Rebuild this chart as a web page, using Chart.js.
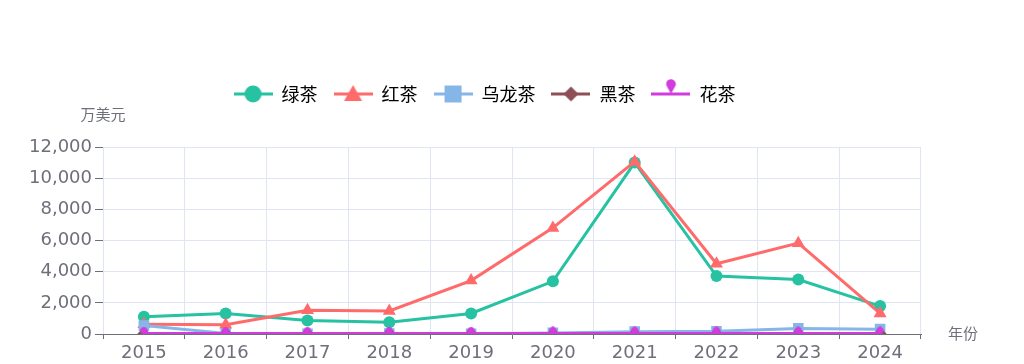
<!DOCTYPE html>
<html>
<head>
<meta charset="utf-8">
<script src="https://cdn.jsdelivr.net/npm/chart.js@4/dist/chart.umd.min.js"></script>
<style>
  html, body { margin: 0; padding: 0; background: #fff; }
</style>
</head>
<body>
<canvas id="tea-chart" width="1024" height="364"></canvas>
<script>
//================================== DATA ==============================================//
const years = ['2015', '2016', '2017', '2018', '2019', '2020', '2021', '2022', '2023', '2024'];
const seriesNames = ['绿茶', '红茶', '乌龙茶', '黑茶', '花茶'];
const lvCha = [1100, 1310, 860, 760, 1320, 3380, 11000, 3720, 3490, 1790];
const hongCha = [620, 600, 1530, 1480, 3430, 6810, 11060, 4510, 5830, 1320];
const wulongCha = [540, 40, 20, 30, 20, 70, 150, 170, 360, 310];
const heiCha = [10, 10, 10, 40, 10, 20, 20, 10, 10, 10];
const huaCha = [30, 30, 30, 30, 30, 40, 40, 40, 40, 40];
const yTicks = [0, 2000, 4000, 6000, 8000, 10000, 12000];

const colors = ['#26C2A1', '#FF6B6B', '#86B6E8', '#8E4F56', '#D23BDC'];
const AXIS = '#6E7079';
const GRID = '#E0E6F1';
const TICK_FONT = { size: 18, family: '"DejaVu Sans"' };

//================================== MARKERS ==============================================//
function drawPin(ctx, cx, cy, r, tipY, color){
    ctx.fillStyle = color;
    ctx.beginPath();
    ctx.arc(cx, cy, r, Math.PI * 0.8, Math.PI * 0.2);
    ctx.lineTo(cx, tipY);
    ctx.closePath();
    ctx.fill();
}

function pinImage(color){
    let c = document.createElement('canvas');
    c.width = 10; c.height = 14;
    drawPin(c.getContext('2d'), 5, 4, 3.6, 11, color);
    return c;
}

function legendIcon(color, style){
    let c = document.createElement('canvas');
    c.width = 39; c.height = 32;
    let ctx = c.getContext('2d');
    ctx.strokeStyle = color;
    ctx.lineWidth = 3;
    ctx.beginPath();
    ctx.moveTo(0, 16);
    ctx.lineTo(39, 16);
    ctx.stroke();
    ctx.fillStyle = color;
    ctx.beginPath();
    if(style === 'circle'){
        ctx.arc(19.5, 16, 8.5, 0, Math.PI * 2);
    } else if(style === 'triangle'){
        ctx.moveTo(19.5, 7);
        ctx.lineTo(28.5, 23);
        ctx.lineTo(10.5, 23);
    } else if(style === 'rect'){
        ctx.rect(11, 7.5, 17, 17);
    } else if(style === 'rectRot'){
        ctx.moveTo(19.5, 8.5);
        ctx.lineTo(27, 16);
        ctx.lineTo(19.5, 23.5);
        ctx.lineTo(12, 16);
    }
    ctx.closePath();
    ctx.fill();
    if(style === 'pin'){
        drawPin(ctx, 19.5, 6, 4.8, 16, color);
    }
    return c;
}

const pointStyles = ['circle', 'triangle', 'rect', 'rectRot', pinImage(colors[4])];
const legendStyles = ['circle', 'triangle', 'rect', 'rectRot', 'pin'];
const pointRadii = [6, 7.5, 7.5, 6.5, 6];

//================================== PLUGINS ==============================================//
const axisNames = {
    id: 'axisNames',
    afterLayout(chart){
        // legend sits higher and a bit right of where Chart.js puts it
        chart.legend.left += 24;
        chart.legend.right += 24;
        chart.legend.top -= 34;
        chart.legend.bottom -= 34;
    },
    afterDraw(chart){
        let ctx = chart.ctx;
        ctx.save();
        ctx.font = '15px "Noto Sans CJK SC"';
        ctx.fillStyle = AXIS;
        ctx.textBaseline = 'middle';
        ctx.textAlign = 'center';
        ctx.fillText('万美元', 103, 114);
        ctx.textAlign = 'left';
        ctx.fillText('年份', 948, 333);
        ctx.restore();
    }
};

//================================== CHART ==============================================//
const allSeries = [lvCha, hongCha, wulongCha, heiCha, huaCha];
const datasets = allSeries.map(function(values, i){
    return {
        label: seriesNames[i],
        data: values,
        borderColor: colors[i],
        backgroundColor: colors[i],
        borderWidth: 3,
        pointStyle: pointStyles[i],
        pointRadius: pointRadii[i],
        pointBorderWidth: 0,
        tension: 0,
        order: 5 - i
    };
});

new Chart(document.getElementById('tea-chart').getContext('2d'), {
    type: 'line',
    data: { labels: years, datasets: datasets },
    plugins: [axisNames],
    options: {
        responsive: false,
        animation: false,
        layout: { padding: { top: 103, right: 103, left: 0, bottom: 0 } },
        plugins: {
            tooltip: { enabled: false },
            legend: {
                position: 'top',
                labels: {
                    usePointStyle: true,
                    pointStyleWidth: 39,
                    padding: 16,
                    color: '#404040',
                    font: { size: 18, family: '"Noto Sans CJK SC"' },
                    generateLabels: function(){
                        return seriesNames.map(function(name, i){
                            return {
                                text: name,
                                fillStyle: colors[i],
                                strokeStyle: colors[i],
                                lineWidth: 0,
                                pointStyle: legendIcon(colors[i], legendStyles[i]),
                                datasetIndex: i,
                                hidden: false
                            };
                        });
                    }
                }
            }
        },
        scales: {
            x: {
                offset: true,
                grid: { offset: true, color: GRID, tickColor: AXIS, tickLength: 5 },
                border: { color: AXIS, width: 1 },
                ticks: { color: AXIS, padding: 4, font: TICK_FONT },
                afterFit: function(scale){ scale.height = 30; }
            },
            y: {
                min: 0,
                max: 12000,
                afterBuildTicks: function(scale){
                    scale.ticks = yTicks.map(v => ({ value: v }));
                },
                grid: { color: GRID, tickColor: AXIS, tickLength: 8 },
                border: { display: false },
                ticks: {
                    color: AXIS,
                    padding: 3,
                    font: TICK_FONT,
                    callback: v => v.toLocaleString('en-US')
                },
                afterFit: function(scale){ scale.width = 103; }
            }
        }
    }
});
</script>
</body>
</html>
